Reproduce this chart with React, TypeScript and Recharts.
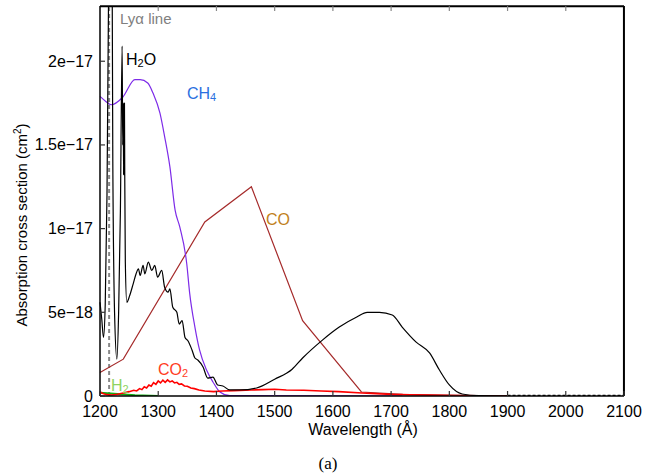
import { LineChart, Line, XAxis, YAxis, ReferenceLine } from 'recharts'

// wavelength ticks (Å) and cross-section ticks (units of 1e-18 cm^2)
const xTicks = [1200, 1300, 1400, 1500, 1600, 1700, 1800, 1900, 2000, 2100]
const yTicks = [0, 5, 10, 15, 20]
const yTickLabels = ['0', '5e\u221218', '1e\u221217', '1.5e\u221217', '2e\u221217']
const yMax = 23.3

const lyAlpha = 1215.67

// H2O
const h2oWl = [1200, 1203, 1206, 1209, 1212, 1216, 1219, 1222, 1225, 1229, 1232, 1235, 1238, 1239, 1240, 1240.5, 1241, 1241.5, 1242, 1242.5, 1243.5, 1246, 1251, 1257, 1262, 1266, 1269, 1274, 1277, 1283, 1289, 1294, 1299, 1306, 1311, 1317, 1320, 1325, 1332, 1336, 1341, 1346, 1351, 1358, 1363, 1368, 1377, 1385, 1394, 1402, 1411, 1423, 1440, 1469, 1500, 1530, 1548, 1582, 1611, 1641, 1659, 1680, 1702, 1719, 1743, 1766, 1783, 1800, 1822, 1851, 1900]
const h2oVal = [5.6, 4.6, 3.5, 5.5, 12, 30, 40, 14, 5, 2.2, 5, 11, 20.9, 15, 17.5, 13.2, 17.5, 13.2, 17.5, 13.2, 8, 5.6, 6.0, 6.7, 7.3, 7.6, 7.2, 7.8, 7.3, 8.0, 7.5, 7.8, 7.1, 7.5, 6.5, 6.2, 6.4, 5.3, 5.0, 4.3, 4.5, 3.5, 3.3, 2.75, 2.27, 2.15, 1.73, 1.07, 1.13, 0.66, 0.6, 0.36, 0.36, 0.48, 1.0, 1.6, 2.27, 3.34, 4.12, 4.72, 5.0, 5.0, 4.84, 4.12, 3.22, 2.57, 1.55, 0.66, 0.12, 0.02, 0]

// dotted zero tail at long wavelengths
const tailWl = [1900, 2100]
const tailVal = [0, 0]

// CH4
const ch4Wl = [1200, 1210, 1219, 1239, 1260, 1269, 1282, 1291, 1303, 1311, 1320, 1329, 1337, 1349, 1354, 1363, 1371, 1383, 1394, 1406, 1423, 1719]
const ch4Val = [17.9, 17.6, 17.4, 17.85, 18.9, 18.9, 18.7, 18.1, 16.9, 15.5, 13.7, 11.1, 10.1, 7.9, 6.15, 4.12, 2.75, 1.55, 0.84, 0.24, 0.02, 0]

// CO
const coWl = [1200, 1240, 1380, 1460, 1548, 1649, 1720, 1900]
const coVal = [1.4, 2.2, 10.4, 12.5, 4.5, 0.24, 0.1, 0]

// CO2
const co2Wl = [1200, 1205, 1212, 1220, 1230, 1240, 1250, 1258, 1263, 1268, 1272, 1276, 1280, 1284, 1288, 1292, 1296, 1300, 1304, 1308, 1312, 1316, 1320, 1324, 1328, 1332, 1336, 1340, 1345, 1350, 1356, 1362, 1370, 1380, 1395, 1410, 1430, 1460, 1480, 1500, 1520, 1550, 1580, 1610, 1650, 1700, 1750, 1800, 1850, 1900]
const co2Val = [0.24, 0.15, 0.08, 0.06, 0.1, 0.18, 0.26, 0.34, 0.3, 0.44, 0.38, 0.55, 0.48, 0.66, 0.58, 0.8, 0.7, 0.9, 0.78, 0.95, 0.82, 0.96, 0.84, 0.9, 0.78, 0.82, 0.7, 0.72, 0.6, 0.58, 0.48, 0.44, 0.36, 0.3, 0.26, 0.3, 0.32, 0.36, 0.38, 0.4, 0.36, 0.34, 0.3, 0.26, 0.18, 0.1, 0.06, 0.03, 0.01, 0]

// H2
const h2Wl = [1200, 1230, 1260, 1300]
const h2Val = [0.2, 0.12, 0.05, 0]

const pts = (wl: number[], val: number[]) => wl.map((w, i) => ({ wl: w, v: val[i] }))

const font = '"Liberation Sans", Arial, Helvetica, sans-serif'

const BottomTick = ({ x, y, payload }: any) => (
  <g>
    <line x1={x} y1={y} x2={x} y2={y - 5} stroke="#333" strokeWidth={1.2} />
    <text x={x} y={y + 21} textAnchor="middle" fontSize={16} fill="#000" fontFamily={font}>
      {payload.value}
    </text>
  </g>
)

const LeftTick = ({ x, y, payload }: any) => (
  <g>
    <line x1={x} y1={y} x2={x + 5} y2={y} stroke="#333" strokeWidth={1.2} />
    <text x={x - 7} y={y + 5.5} textAnchor="end" fontSize={16} fill="#000" fontFamily={font}>
      {yTickLabels[yTicks.indexOf(payload.value)]}
    </text>
  </g>
)

// frame edges sit just inside the domain so the reference lines are kept
const frameX = 2099.9
const frameY = 23.29

export default function App() {
  return (
    <div style={{ position: 'absolute', left: 0, top: 0, width: 655, height: 476, background: '#fff' }}>
      <LineChart width={655} height={476} margin={{ top: 6, right: 31, bottom: 50, left: 0 }}>
        <XAxis
          dataKey="wl"
          type="number"
          domain={[1200, 2100]}
          ticks={xTicks}
          tickSize={0}
          tickMargin={0}
          tick={<BottomTick />}
          height={30}
          stroke="#000"
          strokeWidth={1.5}
        />
        <YAxis
          type="number"
          domain={[0, yMax]}
          ticks={yTicks}
          allowDataOverflow
          tickSize={0}
          tickMargin={0}
          tick={<LeftTick />}
          width={100}
          stroke="#000"
          strokeWidth={1.5}
        />
        <ReferenceLine y={frameY} stroke="#000" strokeWidth={2} />
        <ReferenceLine x={frameX} stroke="#000" strokeWidth={2} />
        {xTicks.slice(1, -1).map((t) => (
          <ReferenceLine key={t} segment={[{ x: t, y: frameY }, { x: t, y: 23.0 }]} stroke="#888" strokeWidth={1.2} />
        ))}
        <ReferenceLine x={lyAlpha} stroke="#888" strokeWidth={2} strokeDasharray="4 3" />
        <Line data={pts(coWl, coVal)} dataKey="v" type="linear" stroke="#a52a2a" strokeWidth={1.2} dot={false} isAnimationActive={false} />
        <Line data={pts(h2Wl, h2Val)} dataKey="v" type="linear" stroke="#10b010" strokeWidth={2} dot={false} isAnimationActive={false} />
        <Line data={pts(ch4Wl, ch4Val)} dataKey="v" type="monotone" stroke="#7d2be8" strokeWidth={1.2} dot={false} isAnimationActive={false} />
        <Line data={pts(co2Wl, co2Val)} dataKey="v" type="linear" stroke="#ff0000" strokeWidth={1.6} dot={false} isAnimationActive={false} />
        <Line data={pts(h2oWl, h2oVal)} dataKey="v" type="monotone" stroke="#000" strokeWidth={1.2} dot={false} isAnimationActive={false} />
        <Line data={pts(tailWl, tailVal)} dataKey="v" type="linear" stroke="#000" strokeWidth={2.5} strokeDasharray="3 2" dot={false} isAnimationActive={false} />
      </LineChart>
      <svg width={655} height={476} style={{ position: 'absolute', left: 0, top: 0, pointerEvents: 'none' }}>
        <g fontFamily={font} fontSize={16}>
          <text x={120} y={24} fill="#808080" fontSize={15}>{'Ly\u03b1 line'}</text>
          <text x={126} y={65} fill="#000">
            H<tspan fontSize={11} dy={2}>2</tspan><tspan dy={-2}>O</tspan>
          </text>
          <text x={187} y={99} fill="#2b6fe0">
            CH<tspan fontSize={11} dy={2}>4</tspan>
          </text>
          <text x={266} y={225} fill="#c17f1b">CO</text>
          <text x={158} y={375} fill="#ff3d1f">
            CO<tspan fontSize={11} dy={2}>2</tspan>
          </text>
          <text x={111} y={391} fill="#8fd35f">
            H<tspan fontSize={11} dy={2}>2</tspan>
          </text>
          <text x={363} y={435} textAnchor="middle" fill="#000">{'Wavelength (\u00c5)'}</text>
          <text x={0} y={0} transform="translate(27,225) rotate(-90)" textAnchor="middle" fill="#000" fontSize={15}>
            Absorption cross section (cm<tspan fontSize={10} dy={-6}>2</tspan><tspan dy={6}>)</tspan>
          </text>
        </g>
        <text x={328} y={469} textAnchor="middle" fontSize={17} fontFamily='"Liberation Serif", "DejaVu Serif", serif' fill="#000">(a)</text>
      </svg>
    </div>
  )
}
